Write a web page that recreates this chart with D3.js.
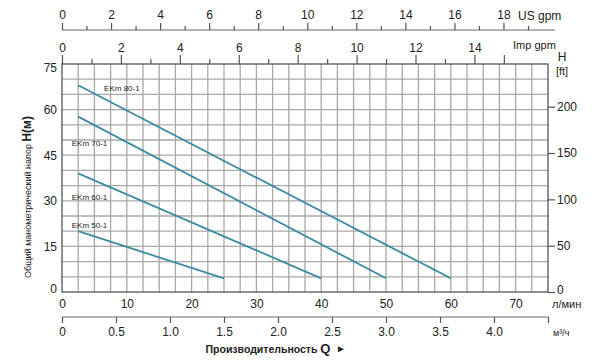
<!DOCTYPE html>
<html><head><meta charset="utf-8">
<script src="https://cdn.jsdelivr.net/npm/d3@7"></script>
<style>
html,body{margin:0;padding:0;background:#fff;}
svg{display:block;font-family:"Liberation Sans",Arial,sans-serif;}
</style></head>
<body>
<svg id="chart" width="600" height="363"></svg>
<script>
// ---- data ----
const seriesNames = ["EKm 80-1", "EKm 70-1", "EKm 60-1", "EKm 50-1"];
const flowStart = [2.5, 2.5, 2.5, 2.5];        // l/min
const flowEnd   = [60, 50, 40, 25];            // l/min
const headStart = [68, 57.7, 39, 20];          // m
const headEnd   = [4.5, 4.5, 4.5, 4.5];        // m
const lpmTicks = [0, 10, 20, 30, 40, 50, 60, 70];
const headTicks = [0, 15, 30, 45, 60, 75];
const ftTicks = [0, 50, 100, 150, 200];
const usGpmTicks = [0, 2, 4, 6, 8, 10, 12, 14, 16, 18];
const impGpmTicks = [0, 2, 4, 6, 8, 10, 12, 14];
const m3hTicks = [0, 0.5, 1.0, 1.5, 2.0, 2.5, 3.0, 3.5, 4.0];
const labelOffsets = [[4, -2], [-1, -9.7], [-1, -8.7], [-1, 1]]; // data-unit offsets for curve labels (Q, H)

// ---- layout ----
const svg = d3.select("#chart");
const L = 62, R = 548, T = 64, B = 292;
const x = d3.scaleLinear().domain([0, 75]).range([L, R]);
const y = d3.scaleLinear().domain([0, 75]).range([B, T]);
const ft = d3.scaleLinear().domain([0, 75 / 0.3048]).range([B, T]);
const xUS = d3.scaleLinear().domain([0, 75 / 3.785]).range([L, R]);
const xImp = d3.scaleLinear().domain([0, 75 / 4.546]).range([L, R]);
const xM3 = d3.scaleLinear().domain([0, 75 * 0.06]).range([L, R]);
const txt = "#222";
const gridC = "#a8a8a8";
const axC = "#555";

// grid
const gridG = svg.append("g").attr("class", "grid");
d3.range(1, 30).forEach(k => {
  const q = k * 2.5;
  gridG.append("line").attr("x1", x(q)).attr("x2", x(q)).attr("y1", T).attr("y2", B)
    .attr("stroke", gridC).attr("stroke-width", 1.3);
});
d3.range(1, 15).forEach(k => {
  const h = k * 5;
  gridG.append("line").attr("x1", L).attr("x2", R).attr("y1", y(h)).attr("y2", y(h))
    .attr("stroke", gridC).attr("stroke-width", 1.3);
});
// frame
svg.append("rect").attr("x", L).attr("y", T).attr("width", R - L).attr("height", B - T)
  .attr("fill", "none").attr("stroke", axC).attr("stroke-width", 1.3);

function styleAxis(sel, fs) {
  sel.selectAll("path.domain").remove();
  sel.selectAll(".tick line").attr("stroke", axC).attr("stroke-width", 1.2);
  sel.selectAll(".tick text").attr("fill", txt).attr("font-size", fs)
    .attr("font-family", "Liberation Sans, Arial, sans-serif");
}

// left axis
const ga = svg.append("g").attr("transform", `translate(${L},0)`)
  .call(d3.axisLeft(y).tickValues(headTicks).tickSize(0).tickPadding(5));
styleAxis(ga, 12);
ga.selectAll(".tick text").attr("dy", d => d === 75 ? "0.6em" : d === 0 ? "0.05em" : "0.32em");

// right ft axis
const gr = svg.append("g").attr("transform", `translate(${R},0)`)
  .call(d3.axisRight(ft).tickValues(ftTicks).tickSize(7).tickPadding(2));
styleAxis(gr, 12);
gr.selectAll(".tick text").attr("dy", d => d === 0 ? "0.1em" : "0.32em");
svg.append("text").attr("x", 562).attr("y", 61).attr("text-anchor", "middle")
  .attr("font-size", 12).attr("fill", txt).text("H");
svg.append("text").attr("x", 562).attr("y", 75).attr("text-anchor", "middle")
  .attr("font-size", 11).attr("fill", txt).text("[ft]");

// bottom l/min labels
const gb = svg.append("g").attr("transform", `translate(0,${B})`)
  .call(d3.axisBottom(x).tickValues(lpmTicks).tickSize(0).tickPadding(7));
styleAxis(gb, 12);
svg.append("text").attr("x", 552).attr("y", 308).attr("font-size", 11).attr("fill", txt).text("л/мин");

// m3/h axis
const yM = 317;
svg.append("line").attr("x1", L).attr("x2", R).attr("y1", yM).attr("y2", yM)
  .attr("stroke", "#999").attr("stroke-width", 1.3);
const gm = svg.append("g").attr("transform", `translate(0,${yM})`)
  .call(d3.axisBottom(xM3).tickValues(d3.range(0, 4.51, 0.5)).tickSize(6).tickPadding(4)
    .tickFormat(d => m3hTicks.some(v => Math.abs(v - d) < 1e-6) ? (d === 0 ? "0" : d3.format(".1f")(d)) : ""));
styleAxis(gm, 12);
svg.append("text").attr("x", 553).attr("y", 336).attr("font-size", 9).attr("fill", txt).text("м³/ч");

// title
const tt = svg.append("text").attr("x", 268).attr("y", 353).attr("text-anchor", "middle")
  .attr("font-size", 10.5).attr("font-weight", "bold").attr("fill", txt);
tt.append("tspan").text("Производительность ");
tt.append("tspan").attr("font-size", 13).text("Q");
svg.append("text").attr("x", 336).attr("y", 352).attr("font-size", 10).attr("fill", txt).text("►");

// US gpm axis
const yUS = 30;
svg.append("line").attr("x1", L).attr("x2", 555).attr("y1", yUS).attr("y2", yUS)
  .attr("stroke", "#999").attr("stroke-width", 1.3);
const gu1 = svg.append("g").attr("transform", `translate(0,${yUS})`)
  .call(d3.axisTop(xUS).tickValues(d3.range(1, 20, 2)).tickSize(4).tickFormat(""));
styleAxis(gu1, 12);
const gu = svg.append("g").attr("transform", `translate(0,${yUS})`)
  .call(d3.axisTop(xUS).tickValues(usGpmTicks).tickSize(7).tickPadding(4));
styleAxis(gu, 12);
svg.append("text").attr("x", 518).attr("y", 20).attr("font-size", 12).attr("fill", txt).text("US gpm");

// Imp gpm axis
const gi1 = svg.append("g").attr("transform", `translate(0,${T})`)
  .call(d3.axisTop(xImp).tickValues(d3.range(1, 16, 2)).tickSize(6).tickFormat(""));
styleAxis(gi1, 12);
gi1.selectAll(".tick line").attr("y2", d => d === 15 ? -9 : -5);
const gi = svg.append("g").attr("transform", `translate(0,${T})`)
  .call(d3.axisTop(xImp).tickValues(impGpmTicks).tickSize(9).tickPadding(3));
styleAxis(gi, 12);
svg.append("text").attr("x", 513).attr("y", 49).attr("font-size", 11).attr("fill", txt).text("Imp gpm");

// y title
const yt = svg.append("text").attr("transform", "translate(31,197) rotate(-90)")
  .attr("text-anchor", "middle").attr("fill", txt).attr("font-size", 9);
yt.append("tspan").text("Общий манометрический напор ");
yt.append("tspan").attr("font-size", 12).attr("font-weight", "bold").text("H(м)");

// curves
const line = d3.line().x(d => x(d[0])).y(d => y(d[1]));
seriesNames.forEach((name, i) => {
  const pts = [[flowStart[i], headStart[i]], [flowEnd[i], headEnd[i]]];
  svg.append("path").attr("d", line(pts)).attr("fill", "none")
    .attr("stroke", "#3c8ba1").attr("stroke-width", 1.8);
  const o = labelOffsets[i];
  svg.append("text").attr("x", x(flowStart[i] + o[0])).attr("y", y(headStart[i] + o[1]))
    .attr("font-size", 8).attr("fill", txt).text(name);
});
</script>
</body></html>
